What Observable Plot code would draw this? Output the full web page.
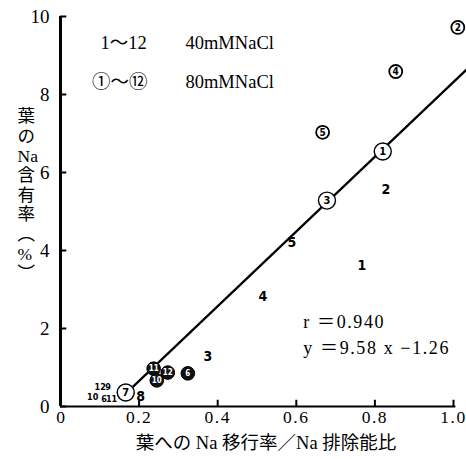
<!DOCTYPE html>
<html>
<head>
<meta charset="utf-8">
<script src="https://cdn.jsdelivr.net/npm/d3@7"></script>
<script src="https://cdn.jsdelivr.net/npm/@observablehq/plot@0.6"></script>
<style>
  html, body { margin: 0; padding: 0; background: #fff; }
  #chart { width: 466px; height: 459px; }
</style>
</head>
<body>
<div id="chart"></div>
<script>
// 40 mM NaCl (plain numbers)
const plainLabels = ["1", "2", "3", "4", "5", "8", "10", "12", "9", "6", "11"];
const plainX = [0.767, 0.828, 0.375, 0.515, 0.589, 0.204, 0.082, 0.101, 0.121, 0.111, 0.130];
const plainY = [3.62, 5.56, 1.28, 2.82, 4.21, 0.26, 0.24, 0.50, 0.50, 0.19, 0.19];

// 80 mM NaCl (circled numbers)
const circLabels = ["1", "2", "3", "4", "5", "7", "11", "12", "10", "6"];
const circX = [0.820, 1.011, 0.678, 0.853, 0.667, 0.166, 0.237, 0.273, 0.245, 0.324];
const circY = [6.54, 9.72, 5.28, 8.59, 7.03, 0.36, 0.97, 0.87, 0.67, 0.85];

// axes
const xTicks = [0, 0.2, 0.4, 0.6, 0.8, 1.0];
const xTickLabels = ["0", "0.2", "0.4", "0.6", "0.8", "1.0"];
const yTicks = [0, 2, 4, 6, 8, 10];
const yTickLabels = ["0", "2", "4", "6", "8", "10"];

// regression
const slope = 9.58, intercept = -1.26, rValue = "0.940";
const lineXs = [0.168, 1.034];

const serif = "Liberation Serif, DejaVu Serif, Noto Sans CJK JP, serif";
const narrow = "Liberation Sans Narrow, DejaVu Sans Condensed, Liberation Sans, sans-serif";

const plain = plainLabels.map((l, i) => ({label: l, x: plainX[i], y: plainY[i]}));
const circ = circLabels.map((l, i) => ({label: l, x: circX[i], y: circY[i]}));
const bigSet = new Set(["1", "3", "7"]);
const smallSet = new Set(["2", "4", "5"]);
const big = circ.filter(d => bigSet.has(d.label));
const small = circ.filter(d => smallSet.has(d.label));
const cluster = circ.filter(d => !bigSet.has(d.label) && !smallSet.has(d.label));
const plainMain = plain.filter(d => +d.label <= 8 && d.label !== "6");
const plainCluster = plain.filter(d => +d.label > 8 || d.label === "6");
const regLine = lineXs.map(x => ({x, y: slope * x + intercept}));

const chart = Plot.plot({
  width: 466,
  height: 459,
  marginLeft: 60,
  marginRight: 13,
  marginTop: 16,
  marginBottom: 53,
  x: {domain: [0, 1], axis: null},
  y: {domain: [0, 10], axis: null},
  style: {background: "#fff", color: "#000", fontFamily: serif},
  marks: [
    // axis lines
    Plot.ruleX([0], {y1: 0, y2: 10, strokeWidth: 3}),
    Plot.ruleY([0], {x1: 0, x2: 1.006, strokeWidth: 2}),
    // inward ticks
    Plot.ruleX(xTicks, {x: d => d, y1: 0, y2: 0.16, strokeWidth: 2}),
    Plot.ruleY(yTicks, {y: d => d, x1: 0, x2: 0.016, strokeWidth: 2}),
    // tick labels
    Plot.text(xTicks, {x: d => d, text: (d, i) => xTickLabels[i], frameAnchor: "bottom", dy: 16,
      fontSize: 17.5, fontFamily: serif}),
    Plot.text(yTicks, {y: d => d, text: (d, i) => yTickLabels[i], frameAnchor: "left", dx: -11,
      textAnchor: "end", fontSize: 19, fontFamily: serif}),
    // axis titles
    Plot.text(["葉への Na 移行率／Na 排除能比"], {frameAnchor: "bottom", dy: 42, dx: 9,
      fontSize: 18.5, fontFamily: serif}),
    Plot.text(["葉\nの\nNa\n含\n有\n率\n︵\n%\n︶"], {frameAnchor: "left", dx: -43, dy: -17,
      lineHeight: 1.12, fontSize: 17.5, fontFamily: serif}),
    // regression line
    Plot.line(regLine, {x: "x", y: "y", strokeWidth: 2.2}),
    // circled points
    Plot.dot(big, {x: "x", y: "y", r: 8.5, fill: "#fff", stroke: "#000", strokeWidth: 1.4}),
    Plot.text(big, {x: "x", y: "y", text: "label", fontSize: 11, fontFamily: narrow, fontWeight: "bold"}),
    Plot.dot(small, {x: "x", y: "y", r: 6.5, fill: "#fff", stroke: "#000", strokeWidth: 1.8}),
    Plot.text(small, {x: "x", y: "y", text: "label", fontSize: 10, fontFamily: narrow, fontWeight: "bold"}),
    Plot.dot(cluster, {x: "x", y: "y", r: 6.8, fill: "#111", stroke: "#000", strokeWidth: 1}),
    Plot.text(cluster, {x: "x", y: "y", text: "label", fontSize: 8, fill: "#fff", fontFamily: narrow, fontWeight: "bold"}),
    // plain numbers
    Plot.text(plainMain, {x: "x", y: "y", text: "label", fontSize: 14, fontFamily: narrow, fontWeight: "bold"}),
    Plot.text(plainCluster, {x: "x", y: "y", text: "label", fontSize: 9, fontFamily: narrow, fontWeight: "bold"}),
    // legend
    Plot.text(["1～12"], {x: [0.102], y: [9.31], textAnchor: "start", fontSize: 18.5, fontFamily: serif}),
    Plot.text(["40mMNaCl"], {x: [0.318], y: [9.31], textAnchor: "start", fontSize: 18.5, fontFamily: serif}),
    Plot.text(["①～⑫"], {x: [0.080], y: [8.33], textAnchor: "start", fontSize: 18.5, fontFamily: serif}),
    Plot.text(["80mMNaCl"], {x: [0.318], y: [8.33], textAnchor: "start", fontSize: 18.5, fontFamily: serif}),
    // statistics
    Plot.text([`r ＝${rValue}`], {x: [0.618], y: [2.15], textAnchor: "start", fontSize: 18, fontFamily: serif}),
    Plot.text([`y ＝${slope} x −${Math.abs(intercept).toFixed(2)}`], {x: [0.618], y: [1.50], textAnchor: "start", fontSize: 18, fontFamily: serif})
  ]
});

const texts = d3.select(chart).selectAll("text");
texts.filter(function () { return /^\d\.\d$/.test(this.textContent); })
  .style("letter-spacing", "1.5px");
texts.filter(function () { return /^[ry] ＝/.test(this.textContent); })
  .style("letter-spacing", "1.6px");
document.getElementById("chart").appendChild(chart);
</script>
</body>
</html>
